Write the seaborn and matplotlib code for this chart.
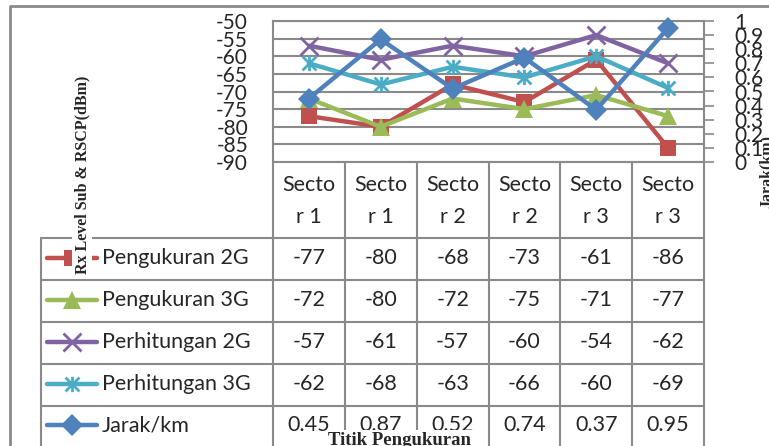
import numpy as np
import pandas as pd
import matplotlib.pyplot as plt
import seaborn as sns
from matplotlib.path import Path

categories = ['Secto\nr 1', 'Secto\nr 1', 'Secto\nr 2', 'Secto\nr 2', 'Secto\nr 3', 'Secto\nr 3']
ukur_2g = [-77, -80, -68, -73, -61, -86]
ukur_3g = [-72, -80, -72, -75, -71, -77]
hitung_2g = [-57, -61, -57, -60, -54, -62]
hitung_3g = [-62, -68, -63, -66, -60, -69]
jarak = [0.45, 0.87, 0.52, 0.74, 0.37, 0.95]

series_names = ['Pengukuran 2G', 'Pengukuran 3G', 'Perhitungan 2G', 'Perhitungan 3G', 'Jarak/km']
left_ticks = [-50, -55, -60, -65, -70, -75, -80, -85, -90]
right_ticks = [0, 0.1, 0.2, 0.3, 0.4, 0.5, 0.6, 0.7, 0.8, 0.9, 1]

sns.set_style('white')
plt.rcParams['font.family'] = ['Lato', 'DejaVu Sans']

star = Path([(-1, -1), (1, 1), (-1, 1), (1, -1), (0, -1.1), (0, 1.1)],
            [Path.MOVETO, Path.LINETO, Path.MOVETO, Path.LINETO, Path.MOVETO, Path.LINETO])

colors = ['#C0504D', '#9BBB59', '#8064A2', '#4BACC6', '#4F81BD']
markers = ['s', '^', 'x', star, 'D']
msizes = [12, 13, 13, 11, 11]
grey = '#8a8a8a'

W, H = 769, 446
fig = plt.figure(figsize=(W / 100, H / 100), dpi=100)
fig.patch.set_facecolor('white')

# plot area in pixel coords
x0, x1, y0, y1 = 273, 704, 21, 162
ax = fig.add_axes([x0 / W, 1 - y1 / H, (x1 - x0) / W, (y1 - y0) / H])
ax.set_facecolor('none')

df = pd.DataFrame({'idx': np.arange(len(categories)),
                   series_names[0]: ukur_2g, series_names[1]: ukur_3g,
                   series_names[2]: hitung_2g, series_names[3]: hitung_3g,
                   series_names[4]: jarak})

for i in range(4):
    sns.lineplot(data=df, x='idx', y=series_names[i], ax=ax, color=colors[i],
                 lw=3.2, marker=markers[i], ms=msizes[i], mew=2 if i >= 2 else 0,
                 mec=colors[i], clip_on=False, zorder=3)
ax.set_xlim(-0.5, len(categories) - 0.5)
ax.set_ylim(-90, -50)
ax.set_yticks(left_ticks)
ax.set_yticklabels([str(t) for t in left_ticks], fontsize=15)
ax.set_xticks([])
ax.set_xlabel('')
ax.set_ylabel('')
ax.tick_params(axis='y', length=0, pad=18)
ax.grid(axis='y', color=grey, lw=1.5)
for s in ax.spines.values():
    s.set_color(grey)
    s.set_linewidth(1.5)

ax2 = ax.twinx()
sns.lineplot(data=df, x='idx', y=series_names[4], ax=ax2, color=colors[4],
             lw=3.2, marker=markers[4], ms=msizes[4], mew=0, clip_on=False, zorder=4)
ax2.set_ylim(0, 1)
ax2.set_yticks(right_ticks)
ax2.set_yticklabels(['%g' % t for t in right_ticks], fontsize=15)
ax2.tick_params(axis='y', direction='out', length=7, width=1.2, color=grey, pad=15)
ax2.set_ylabel('')
ax2.set_xlabel('')
for s in ax2.spines.values():
    s.set_visible(False)

# data table and labels drawn on an overlay in pixel coordinates
ov = fig.add_axes([0, 0, 1, 1])
ov.set_xlim(0, W)
ov.set_ylim(H, 0)
ov.axis('off')
ov.set_zorder(5)

# outer chart border
ov.plot([10, 10, W], [H, 6, 6], color=grey, lw=2)

col_w = (x1 - x0) / len(categories)
col_x = [x0 + col_w * k for k in range(len(categories) + 1)]
row_y = [238, 280, 322, 364, 406, 446]
leg_x = 41

for cx in col_x:
    ov.plot([cx, cx], [y1, H], color=grey, lw=1.5)
ov.plot([leg_x, leg_x], [row_y[0], H], color=grey, lw=1.5)
for ry in row_y[:-1]:
    ov.plot([leg_x, x1], [ry, ry], color=grey, lw=1.5)

for k, lab in enumerate(categories):
    ov.text(x0 + col_w * (k + 0.5), (y1 + row_y[0]) / 2 + 1, lab, ha='center', va='center',
            fontsize=15.5, linespacing=1.75)

values = [ukur_2g, ukur_3g, hitung_2g, hitung_3g, jarak]
for r, name in enumerate(series_names):
    cy = (row_y[r] + row_y[r + 1]) / 2 - 1
    ov.plot([47, 72, 97], [cy, cy, cy], color=colors[r], lw=3.2, marker=markers[r],
            ms=msizes[r], mew=2 if r in (2, 3) else 0, mec=colors[r], markevery=[1])
    ov.text(102, cy, name, ha='left', va='center', fontsize=15.5)
    for k, v in enumerate(values[r]):
        ov.text(x0 + col_w * (k + 0.5), cy, '%g' % v, ha='center', va='center', fontsize=15.5)

# axis titles (pasted-on serif labels)
ov.text(82, 175, 'Rx Level Sub & RSCP(dBm)', rotation=90, ha='center', va='center',
        family='Liberation Serif', weight='bold', fontsize=11.5,
        bbox=dict(facecolor='white', edgecolor='none', pad=1.5))
ov.text(767, 172, 'Jarak(km)', rotation=90, ha='center', va='center',
        family='Liberation Serif', weight='bold', fontsize=11.5)
ov.text(400, 432, 'Titik Pengukuran', ha='center', va='top',
        family='Liberation Serif', weight='bold', fontsize=13.5,
        bbox=dict(facecolor='white', edgecolor='none', pad=1.5))

fig.savefig('out.png', dpi=100)
